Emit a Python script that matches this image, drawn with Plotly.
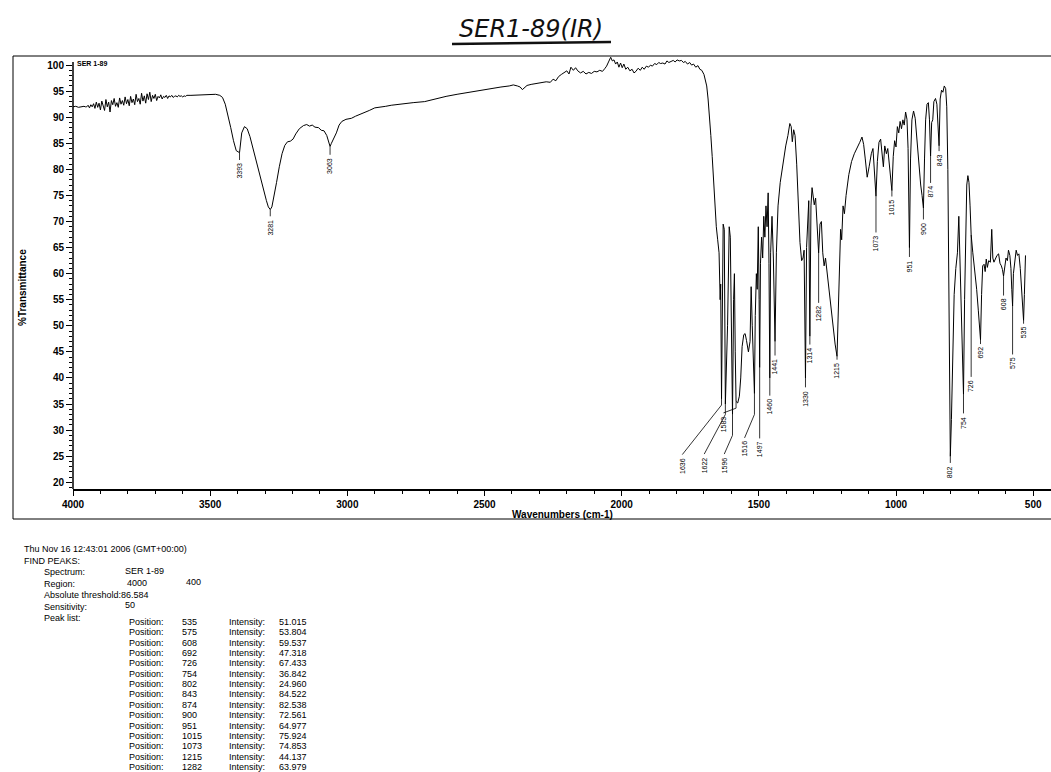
import plotly.graph_objects as go

# ---------------------------------------------------------------------------
# Spectrum SER 1-89 : %Transmittance vs wavenumber (cm-1)
# ---------------------------------------------------------------------------

# flat start of the trace
band_4000_3955 = [(4000, 92.0), (3990, 92.1), (3980, 91.9), (3970, 92.0), (3960, 92.1), (3955, 92.0)]

# noisy region above 3580 cm-1
band_3950_3585 = [
    (3950, 92.0), (3945, 92.3), (3940, 91.8), (3935, 92.4), (3930, 92.0), (3925, 92.6),
    (3920, 91.7), (3915, 92.9), (3910, 91.9), (3905, 92.7), (3900, 91.4), (3895, 93.1),
    (3890, 92.2), (3885, 91.3), (3880, 93.4), (3875, 92.0), (3870, 92.9), (3865, 91.0),
    (3860, 93.2), (3855, 92.4), (3850, 93.6), (3845, 92.1), (3840, 92.8), (3835, 91.9),
    (3830, 93.7), (3825, 92.5), (3820, 93.2), (3815, 92.3), (3810, 93.9), (3805, 92.6),
    (3800, 93.4), (3795, 92.2), (3790, 94.0), (3785, 92.8), (3780, 93.5), (3775, 92.4),
    (3770, 94.4), (3765, 93.0), (3760, 93.6), (3755, 92.5), (3750, 94.6), (3745, 93.1),
    (3740, 94.1), (3735, 92.7), (3730, 94.5), (3725, 93.4), (3720, 94.8), (3715, 93.0),
    (3710, 94.2), (3705, 93.6), (3700, 94.4), (3695, 93.2), (3690, 94.0), (3685, 93.7),
    (3680, 94.3), (3675, 93.5), (3670, 94.0), (3665, 93.8), (3660, 94.2), (3655, 93.6),
    (3650, 94.1), (3645, 93.9), (3640, 94.2), (3635, 93.8), (3630, 94.0), (3625, 94.1),
    (3620, 93.9), (3615, 94.2), (3610, 94.0), (3605, 94.1), (3600, 93.9), (3595, 94.1),
    (3590, 94.0), (3585, 94.2),
]

# N-H / C-H stretching region
band_3570_2985 = [
    (3570, 94.2), (3540, 94.3), (3510, 94.4), (3480, 94.4), (3465, 94.2), (3455, 93.8),
    (3445, 92.5), (3435, 90.5), (3425, 88.0), (3415, 85.5), (3405, 83.6), (3385, 87.0),
    (3375, 88.2), (3365, 87.8), (3355, 86.3), (3345, 84.2), (3335, 82.0), (3320, 79.0),
    (3305, 76.0), (3295, 74.0), (3288, 72.8), (3275, 72.8), (3268, 74.5), (3258, 77.5),
    (3248, 80.5), (3238, 83.0), (3228, 84.6), (3218, 85.3), (3208, 85.4), (3198, 85.8),
    (3188, 86.8), (3175, 87.8), (3160, 88.4), (3148, 88.6), (3138, 88.3), (3128, 88.5),
    (3118, 88.1), (3105, 88.0), (3095, 87.5), (3085, 87.4), (3075, 86.5), (3068, 85.2),
    (3058, 85.0), (3050, 85.8), (3040, 87.0), (3030, 88.5), (3020, 89.2), (3005, 89.6),
    (2985, 89.8),
]

# slowly rising baseline
band_2970_2345 = [
    (2970, 90.2), (2950, 90.6), (2920, 91.3), (2900, 91.8), (2882, 92.0), (2860, 92.1),
    (2840, 92.3), (2800, 92.6), (2760, 92.8), (2718, 93.0), (2680, 93.5), (2640, 94.0),
    (2600, 94.4), (2555, 94.8), (2520, 95.2), (2480, 95.5), (2440, 95.8), (2410, 96.0),
    (2395, 96.2), (2380, 96.0), (2370, 95.8), (2362, 95.3), (2355, 95.6), (2345, 96.1),
]

band_2330_1700 = [
    (2330, 96.3), (2310, 96.5), (2290, 96.6), (2275, 96.8), (2260, 96.7), (2250, 97.3),
    (2240, 97.0), (2230, 97.8), (2220, 98.2), (2210, 98.5), (2200, 98.9), (2192, 98.3),
    (2185, 99.6), (2176, 99.0), (2168, 99.5), (2160, 98.9), (2150, 98.5), (2140, 98.8),
    (2130, 98.3), (2120, 98.6), (2110, 98.4), (2100, 98.8), (2090, 98.7), (2080, 99.0),
    (2070, 98.8), (2062, 99.3), (2055, 99.8), (2048, 100.6), (2040, 101.5), (2034, 100.8),
    (2028, 101.0), (2022, 100.2), (2016, 100.6), (2010, 99.6), (2004, 100.4), (1998, 99.5),
    (1992, 100.2), (1985, 99.2), (1978, 99.6), (1970, 98.9), (1962, 99.2), (1955, 98.5),
    (1948, 98.8), (1940, 99.4), (1932, 99.0), (1925, 99.6), (1918, 99.2), (1910, 99.8),
    (1902, 99.6), (1895, 100.0), (1888, 99.8), (1880, 100.3), (1872, 100.1), (1865, 100.5),
    (1858, 100.3), (1850, 100.4), (1842, 100.2), (1835, 100.8), (1828, 100.5), (1820, 100.7),
    (1812, 100.9), (1805, 100.6), (1798, 101.0), (1790, 100.8), (1782, 100.9), (1775, 100.5),
    (1768, 100.7), (1760, 100.2), (1752, 100.5), (1745, 100.0), (1738, 100.2), (1730, 99.6),
    (1722, 99.9), (1715, 99.2), (1708, 99.0), (1700, 98.2),
]

# fingerprint region
band_1694_1100 = [
    (1694, 97.0), (1690, 96.0), (1685, 93.5), (1680, 90.5), (1675, 86.5), (1670, 82.5),
    (1665, 77.5), (1660, 73.0), (1655, 69.0), (1650, 66.5), (1645, 64.0), (1641, 55.0),
    (1639, 58.0), (1630, 69.5), (1626, 68.5), (1614, 50.0), (1608, 69.0), (1604, 67.0),
    (1592, 55.0), (1589, 60.0), (1586, 45.0), (1577, 35.2), (1571, 36.5), (1566, 40.0),
    (1561, 46.0), (1555, 48.3), (1550, 48.5), (1545, 47.2), (1538, 45.0), (1532, 47.0),
    (1528, 57.5), (1524, 50.0), (1519, 39.0), (1513, 52.0), (1509, 60.0), (1506, 57.0),
    (1502, 69.0), (1499, 55.0), (1494, 62.0), (1490, 67.0), (1486, 63.0), (1482, 71.0),
    (1478, 67.0), (1474, 73.0), (1470, 69.0), (1466, 75.5), (1463, 62.0), (1457, 64.0),
    (1452, 71.0), (1447, 63.0), (1436, 64.0), (1430, 73.0), (1422, 77.5), (1412, 81.5),
    (1402, 84.5), (1394, 86.5), (1387, 88.8), (1382, 88.2), (1378, 85.3), (1373, 87.6),
    (1368, 86.5), (1362, 81.0), (1356, 74.0), (1350, 66.0), (1344, 62.5), (1339, 63.0),
    (1335, 64.5), (1326, 65.0), (1322, 71.0), (1318, 74.0), (1310, 73.0), (1306, 76.5),
    (1302, 74.0), (1298, 73.2), (1293, 74.5), (1288, 70.5), (1277, 69.5), (1272, 70.0),
    (1267, 64.0), (1262, 61.5), (1257, 63.0), (1252, 60.5), (1245, 57.0), (1238, 54.0),
    (1230, 50.5), (1222, 46.5), (1210, 52.0), (1206, 62.0), (1202, 68.5), (1198, 66.5),
    (1193, 73.0), (1188, 71.5), (1182, 75.0), (1172, 79.0), (1162, 81.5), (1152, 83.0),
    (1142, 84.0), (1132, 85.2), (1124, 86.2), (1118, 84.8), (1112, 82.0), (1105, 78.5),
]

band_1098_528 = [
    (1098, 80.5), (1090, 83.0), (1084, 84.0), (1078, 80.0), (1068, 81.5), (1062, 85.2),
    (1056, 85.8), (1050, 83.0), (1046, 80.5), (1041, 84.5), (1035, 83.0), (1030, 84.0),
    (1024, 80.5), (1020, 79.0), (1010, 82.5), (1005, 85.5), (1000, 84.3), (995, 88.2),
    (990, 87.0), (985, 89.2), (980, 87.8), (975, 89.5), (970, 88.5), (965, 91.0),
    (960, 89.6), (956, 84.0), (947, 82.0), (942, 89.5), (936, 91.2), (930, 89.8),
    (924, 86.0), (918, 81.0), (910, 77.0), (905, 75.0), (896, 82.0), (892, 89.5),
    (887, 92.5), (882, 92.8), (878, 89.5), (870, 89.0), (866, 89.5), (862, 93.0),
    (856, 93.6), (851, 92.5), (847, 89.0), (839, 93.5), (834, 95.2), (829, 94.8),
    (824, 96.0), (819, 95.5), (815, 92.0), (811, 80.0), (807, 55.0), (798, 32.0),
    (793, 46.0), (788, 56.0), (782, 61.0), (776, 64.0), (771, 71.0), (767, 62.0),
    (760, 48.0), (750, 55.0), (746, 70.0), (742, 77.0), (738, 78.8), (734, 77.5),
    (730, 73.0), (720, 64.0), (713, 61.0), (706, 57.0), (700, 53.0), (695, 49.0),
    (688, 56.0), (684, 61.5), (679, 61.8), (675, 60.4), (671, 62.8), (667, 61.2),
    (662, 62.5), (656, 62.2), (651, 68.5), (647, 63.0), (643, 62.2), (638, 62.8),
    (632, 63.5), (626, 63.8), (621, 62.0), (616, 61.5), (612, 60.8), (604, 61.0),
    (599, 63.0), (594, 62.5), (590, 64.5), (585, 63.5), (581, 61.0), (578, 57.0),
    (572, 60.0), (567, 63.0), (562, 64.5), (557, 63.5), (552, 63.8), (547, 61.0),
    (542, 57.0), (538, 53.0), (532, 56.0), (528, 63.5),
]

# picked peaks: position (cm-1) and %T at the peak
peak_pos = [535, 575, 608, 692, 726, 754, 802, 843, 874, 900, 951, 1015, 1073, 1215, 1282,
            1314, 1330, 1441, 1460, 1497, 1516, 1583, 1596, 1622, 1636, 3063, 3281, 3393]
peak_int = [51.015, 53.804, 59.537, 47.318, 67.433, 36.842, 24.960, 84.522, 82.538, 72.561,
            64.977, 75.924, 74.853, 44.137, 63.979,
            48.0, 40.0, 47.0, 40.0, 42.0, 37.0, 35.5, 33.0, 35.0, 36.0, 84.4, 72.3, 83.2]

# where each peak label sits (wavenumber, %T of the label top) and optional bend of its leader
label_wn = [535, 575, 608, 692, 726, 754, 802, 843, 874, 900, 951, 1015, 1073, 1215, 1282,
            1314, 1330, 1441, 1460, 1497, 1552, 1629, 1626, 1699, 1779, 3063, 3281, 3393]
label_top = [50.2, 44.3, 55.6, 46.3, 40.0, 33.0, 23.5, 83.3, 77.2, 70.2, 63.0, 74.6, 67.7, 43.3, 54.2,
             46.2, 38.0, 44.1, 36.4, 28.2, 28.3, 33.1, 25.2, 25.2, 25.1, 82.6, 70.8, 81.6]
leader_bend = [None] * 20 + [33.0, 34.2, 29.0, 33.0, 34.8, None, None, None]

# FIND PEAKS header
report_header = [
    ("Thu Nov 16 12:43:01 2006 (GMT+00:00)", 22, 549),
    ("FIND PEAKS:", 22, 561),
    ("Spectrum:", 42, 572), ("SER 1-89", 123, 571),
    ("Region:", 42, 584), ("4000", 125, 583), ("400", 184, 582),
    ("Absolute threshold:86.584", 42, 595),
    ("Sensitivity:", 42, 607), ("50", 123, 605),
    ("Peak list:", 42, 618),
]
table_n_rows = 15

# ---------------------------------------------------------------------------
W, H = 1051, 772
L, R, T, B = 73, 0, 54, 283
PW, PH = W - L - R, H - T - B
Y_LO, Y_HI = 18.7, 102.13   # plot range; the drawn y axis stops at Y_AXIS_TOP
Y_AXIS_TOP = 100.6


def px(xpix):
    return (xpix - L) / PW


def py(ypix):
    return (H - B - ypix) / PH


points = {}
for seg in (band_4000_3955, band_3950_3585, band_3570_2985, band_2970_2345,
            band_2330_1700, band_1694_1100, band_1098_528):
    for w, t in seg:
        points[w] = t
for w, t in zip(peak_pos, peak_int):
    points[w] = t
wn = sorted(points, reverse=True)
tr = [points[w] for w in wn]

fig = go.Figure()
fig.add_trace(go.Scatter(x=wn, y=tr, mode="lines",
                         line=dict(color="black", width=1), hoverinfo="skip"))

# peak leaders
lx, ly = [], []
for w, t, lw, lt, bend in zip(peak_pos, peak_int, label_wn, label_top, leader_bend):
    lx.append(w)
    ly.append(t)
    if bend is not None:
        lx.append(w)
        ly.append(bend)
    lx.append(lw)
    ly.append(lt + 0.2)
    lx.append(None)
    ly.append(None)
fig.add_trace(go.Scatter(x=lx, y=ly, mode="lines",
                         line=dict(color="black", width=0.8), hoverinfo="skip"))

annotations = []
for w, lw, lt in zip(peak_pos, label_wn, label_top):
    annotations.append(dict(x=lw, y=lt, xref="x", yref="y", text=str(w),
                            textangle=-90, xanchor="center", yanchor="top",
                            showarrow=False,
                            font=dict(family="Liberation Sans, Arial", size=7, color="black")))

annotations.append(dict(x=3992, y=100.4, xref="x", yref="y", text="<b>SER 1-89</b>",
                        xanchor="left", yanchor="middle", showarrow=False,
                        font=dict(family="Liberation Sans, Arial", size=7, color="black")))

annotations.append(dict(x=px(22), y=py(288), xref="paper", yref="paper",
                        text="<b>%Transmittance</b>", textangle=-90,
                        xanchor="center", yanchor="middle", showarrow=False,
                        font=dict(family="Liberation Sans, Arial", size=10, color="black")))
annotations.append(dict(x=px(562), y=py(514), xref="paper", yref="paper",
                        text="<b>Wavenumbers (cm-1)</b>",
                        xanchor="center", yanchor="middle", showarrow=False,
                        font=dict(family="Liberation Sans, Arial", size=10, color="black")))

# handwritten sample name
annotations.append(dict(x=px(531), y=py(29), xref="paper", yref="paper",
                        text="<i>SER1-89(IR)</i>", xanchor="center", yanchor="middle",
                        showarrow=False,
                        font=dict(family="DejaVu Sans", size=24, color="#111111")))

# peak report below the chart
for text, x0, y0 in report_header:
    annotations.append(dict(x=px(x0), y=py(y0), xref="paper", yref="paper", text=text,
                            xanchor="left", yanchor="middle", showarrow=False,
                            font=dict(family="Liberation Sans, Arial", size=9, color="black")))
for i in range(table_n_rows):
    yrow = 622 + i * 10.35
    cells = [("Position:", 127), (str(peak_pos[i]), 180),
             ("Intensity:", 227), (f"{peak_int[i]:.3f}", 277)]
    for text, x0 in cells:
        annotations.append(dict(x=px(x0), y=py(yrow), xref="paper", yref="paper", text=text,
                                xanchor="left", yanchor="middle", showarrow=False,
                                font=dict(family="Liberation Sans, Arial", size=9, color="black")))

shapes = [
    # outer frame of the printout
    dict(type="rect", xref="paper", yref="paper", x0=px(13), x1=px(1062),
         y0=py(519), y1=py(56), line=dict(color="black", width=1)),
    # underline of the sample name
    dict(type="line", xref="paper", yref="paper", x0=px(452), x1=px(611),
         y0=py(44), y1=py(42), line=dict(color="#111111", width=2.5)),
    # y axis line, ending just above 100 %T
    dict(type="line", xref="paper", yref="y", x0=0, x1=0, y0=Y_LO, y1=Y_AXIS_TOP,
         line=dict(color="black", width=1.5)),
]

tickfont = dict(family="Liberation Sans, Arial", size=10, color="black")
fig.update_layout(
    width=W, height=H,
    margin=dict(l=L, r=R, t=T, b=B),
    paper_bgcolor="white", plot_bgcolor="white",
    showlegend=False,
    annotations=annotations,
    shapes=shapes,
    xaxis=dict(range=[4000, 435], tickvals=[4000, 3500, 3000, 2500, 2000, 1500, 1000, 500],
               ticktext=["<b>4000</b>", "<b>3500</b>", "<b>3000</b>", "<b>2500</b>",
                         "<b>2000</b>", "<b>1500</b>", "<b>1000</b>", "<b>500</b>"],
               ticks="outside", ticklen=5, tickwidth=1, tickcolor="black",
               minor=dict(dtick=100, tick0=0, ticks="outside", ticklen=3, tickcolor="black"),
               showline=True, linecolor="black", linewidth=1.5,
               showgrid=False, zeroline=False, tickfont=tickfont),
    yaxis=dict(range=[Y_LO, Y_HI], tickvals=list(range(20, 101, 5)),
               ticktext=[f"<b>{v}</b>" for v in range(20, 101, 5)],
               ticks="outside", ticklen=6, tickwidth=1, tickcolor="black",
               minor=dict(tickvals=list(range(19, 101)), ticks="outside", ticklen=3,
                          tickcolor="black"),
               showline=False,
               showgrid=False, zeroline=False, tickfont=tickfont),
)

fig.write_html("out.html")
